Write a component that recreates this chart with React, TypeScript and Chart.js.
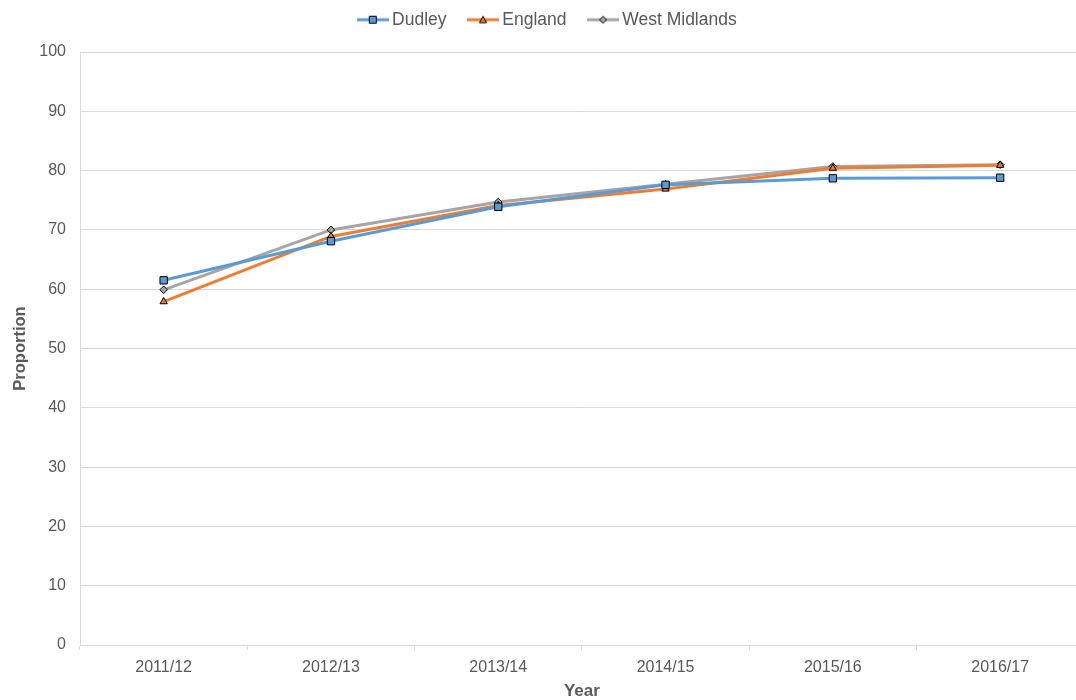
import React, { useEffect, useRef } from "react";
import { Chart, registerables } from "chart.js";

Chart.register(...registerables);

const years = ["2011/12", "2012/13", "2013/14", "2014/15", "2015/16", "2016/17"];
const dudley = [61.5, 68.1, 73.9, 77.6, 78.7, 78.8];
const england = [57.9, 68.9, 74.1, 76.9, 80.4, 80.9];
const westMidlands = [59.9, 70.0, 74.7, 77.7, 80.7, 81.0];
const yTicks = [0, 10, 20, 30, 40, 50, 60, 70, 80, 90, 100];

const BLUE = "#5B9BD5";
const ORANGE = "#ED7D31";
const GREY = "#A5A5A5";
const TEXT = "#595959";
const FONT = "'Liberation Sans', Arial, sans-serif";

// Legend swatch: a short stroke of the series colour with its marker on top.
function legendSwatch(color: string, marker: string): HTMLCanvasElement {
  const c = document.createElement("canvas");
  c.width = 32;
  c.height = 12;
  const ctx = c.getContext("2d")!;
  ctx.strokeStyle = color;
  ctx.lineWidth = 3;
  ctx.beginPath();
  ctx.moveTo(0, 6);
  ctx.lineTo(32, 6);
  ctx.stroke();
  ctx.fillStyle = color;
  ctx.strokeStyle = "#000";
  ctx.lineWidth = 1;
  ctx.beginPath();
  if (marker === "rect") {
    ctx.rect(12.5, 2.5, 7, 7);
  } else if (marker === "triangle") {
    ctx.moveTo(16, 2.5);
    ctx.lineTo(19.5, 9);
    ctx.lineTo(12.5, 9);
    ctx.closePath();
  } else {
    ctx.moveTo(16, 2.5);
    ctx.lineTo(19.5, 6);
    ctx.lineTo(16, 9.5);
    ctx.lineTo(12.5, 6);
    ctx.closePath();
  }
  ctx.fill();
  ctx.stroke();
  return c;
}

// Legend starts above the canvas top (negative layout padding) so its
// roomy horizontal padding does not push the labels down; its block height
// is fixed so the plot area starts at the same place, and it sits a little
// right of the canvas centre.
const LEGEND_SHIFT = 15;
const LEGEND_NUDGE_X = 7;
const legendPlacementPlugin = {
  id: "legendPlacement",
  afterInit(chart: any) {
    const legend = chart.legend;
    if (!legend) return;
    const fit = legend.fit.bind(legend);
    legend.fit = function () {
      fit();
      this.height = 52 + LEGEND_SHIFT;
    };
  },
  afterLayout(chart: any) {
    const legend = chart.legend;
    if (!legend) return;
    legend.left += LEGEND_NUDGE_X;
    legend.right += LEGEND_NUDGE_X;
  },
};

export default function App() {
  const ref = useRef<HTMLCanvasElement>(null);

  useEffect(() => {
    const series = [
      { label: "Dudley", data: dudley, color: BLUE, marker: "rect", radius: 5.2 },
      { label: "England", data: england, color: ORANGE, marker: "triangle", radius: 4.2 },
      { label: "West Midlands", data: westMidlands, color: GREY, marker: "rectRot", radius: 3.8 },
    ];
    const swatches = series.map((s) => legendSwatch(s.color, s.marker));

    const chart = new Chart(ref.current!, {
      type: "line",
      data: {
        labels: years,
        datasets: series.map((s) => ({
          label: s.label,
          data: s.data,
          borderColor: s.color,
          backgroundColor: s.color,
          borderWidth: 3,
          pointStyle: s.marker as any,
          pointRadius: s.radius,
          pointBackgroundColor: s.color,
          pointBorderColor: "#000",
          pointBorderWidth: 1,
          tension: 0,
        })),
      },
      plugins: [legendPlacementPlugin],
      options: {
        animation: false,
        responsive: false,
        layout: { padding: { top: -LEGEND_SHIFT, right: 5, left: 0, bottom: 0 } },
        plugins: {
          tooltip: { enabled: false },
          legend: {
            position: "top",
            labels: {
              usePointStyle: true,
              pointStyleWidth: 21,
              padding: 26,
              color: TEXT,
              font: { family: FONT, size: 17.5 },
              generateLabels: (ch: any) =>
                ch.data.datasets.map((d: any, i: number) => ({
                  text: d.label,
                  pointStyle: swatches[i],
                  fillStyle: d.borderColor,
                  strokeStyle: d.borderColor,
                  lineWidth: 0,
                  fontColor: TEXT,
                  hidden: false,
                  datasetIndex: i,
                })),
            },
          },
        },
        scales: {
          x: {
            offset: true,
            afterFit: (scale: any) => {
              scale.height = 57;
            },
            grid: {
              offset: true,
              drawOnChartArea: false,
              drawTicks: true,
              tickLength: 5,
              color: "#D9D9D9",
            },
            border: { color: "#D9D9D9" },
            ticks: { color: TEXT, font: { family: FONT, size: 16 }, padding: 8 },
            title: {
              display: true,
              text: "Year",
              color: TEXT,
              font: { family: FONT, size: 17, weight: "bold" },
              padding: { top: 0, bottom: 0 },
            },
          },
          y: {
            min: 0,
            max: 100,
            afterBuildTicks: (scale: any) => {
              scale.ticks = yTicks.map((v) => ({ value: v }));
            },
            afterFit: (scale: any) => {
              scale.width = 80;
            },
            grid: { color: "#D9D9D9", drawTicks: false },
            border: { color: "#D9D9D9" },
            ticks: { color: TEXT, font: { family: FONT, size: 16 }, padding: 14 },
            title: {
              display: true,
              text: "Proportion",
              color: TEXT,
              font: { family: FONT, size: 16.5, weight: "bold" },
              padding: { top: 11, bottom: 0 },
            },
          },
        },
      },
    });
    return () => chart.destroy();
  }, []);

  return (
    <div
      style={{
        position: "fixed",
        left: 0,
        top: 0,
        width: 1076,
        height: 700,
        overflow: "hidden",
        background: "#fff",
      }}
    >
      <canvas ref={ref} width={1090} height={702} style={{ display: "block" }} />
    </div>
  );
}
